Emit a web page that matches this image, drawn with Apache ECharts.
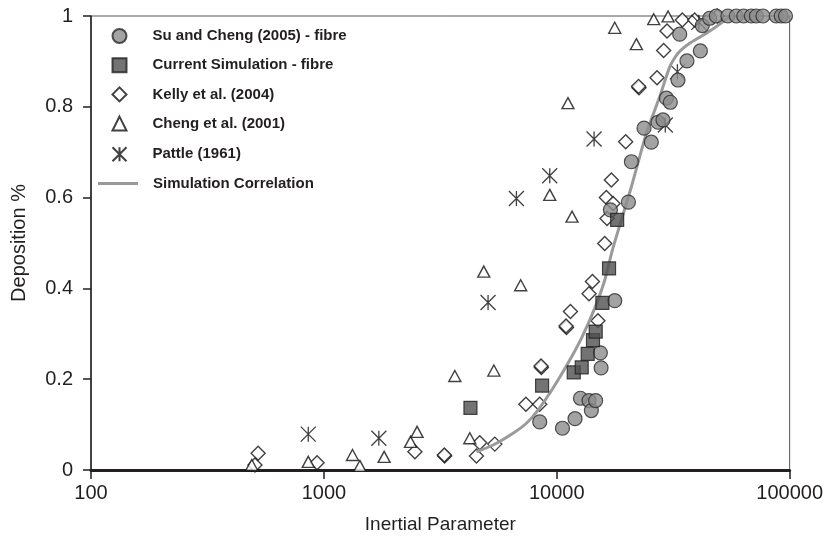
<!DOCTYPE html>
<html>
<head>
<meta charset="UTF-8">
<script src="https://cdn.jsdelivr.net/npm/echarts@6/dist/echarts.min.js"></script>
<style>
  html, body { margin: 0; padding: 0; background: #fff; }
  #chart { width: 826px; height: 540px; }
</style>
</head>
<body>
<div id="chart"></div>
<script type="text/javascript">
// Data: [inertial parameter, deposition fraction]
const suCheng = [
  [8450, 0.106], [10580, 0.092], [11980, 0.113], [12640, 0.158], [13760, 0.153],
  [14080, 0.131], [14690, 0.153], [15390, 0.258], [15500, 0.225], [17740, 0.373],
  [17000, 0.573], [20310, 0.59], [20920, 0.679], [23700, 0.753], [25470, 0.722],
  [27210, 0.766], [28590, 0.771], [29570, 0.819], [30740, 0.81], [33160, 0.859],
  [33730, 0.96], [36230, 0.901], [41370, 0.923], [42170, 0.979], [45370, 0.995],
  [48400, 1.0], [54300, 1.0], [59000, 1.0], [63500, 1.0], [68500, 1.0],
  [72000, 1.0], [76800, 1.0], [87600, 1.0], [92000, 1.0], [96000, 1.0]
];
const currentSim = [
  [4260, 0.137], [8650, 0.186], [11830, 0.215], [12800, 0.226], [13580, 0.256],
  [14310, 0.286], [14700, 0.305], [15700, 0.368], [16770, 0.444], [18170, 0.551]
];
const kelly = [
  [522, 0.037], [506, 0.011], [935, 0.016], [2460, 0.040], [3300, 0.031], [3290, 0.033],
  [4520, 0.031], [4670, 0.060], [5420, 0.057], [7370, 0.145], [8450, 0.145],
  [8590, 0.226], [8560, 0.229], [11010, 0.314], [10960, 0.317], [11450, 0.349],
  [15030, 0.329], [13760, 0.388], [14230, 0.415], [16070, 0.499], [16440, 0.554],
  [16330, 0.6], [17450, 0.587], [17160, 0.639], [19770, 0.723], [22550, 0.842],
  [22450, 0.845], [26950, 0.864], [28770, 0.924], [29750, 0.967], [34600, 0.991],
  [39100, 0.991], [48900, 1.0]
];
const cheng = [
  [490, 0.011], [857, 0.018], [1327, 0.033], [1427, 0.009], [1815, 0.029],
  [2355, 0.062], [2513, 0.084], [4233, 0.070], [3650, 0.207], [5370, 0.219],
  [4860, 0.437], [7000, 0.407], [9330, 0.606], [11630, 0.558], [11170, 0.808],
  [17740, 0.974], [21980, 0.938], [26080, 0.993], [30060, 0.999]
];
const pattle = [
  [857, 0.079], [1722, 0.070], [5070, 0.369], [6710, 0.598], [9330, 0.648],
  [14460, 0.729], [29250, 0.76], [32960, 0.877], [40740, 0.986]
];
const correlation = [
  [4520, 0.040], [5330, 0.055], [6490, 0.081], [7410, 0.103], [8310, 0.132],
  [9630, 0.18], [11170, 0.235], [12760, 0.29], [14550, 0.356], [16070, 0.418],
  [17340, 0.485], [18950, 0.551], [20920, 0.624], [24260, 0.742], [27670, 0.822],
  [30550, 0.888], [33160, 0.918], [37220, 0.94], [43900, 0.962], [51720, 0.987],
  [55260, 1.0]
];

const names = [
  'Su and Cheng (2005) - fibre',
  'Current Simulation - fibre',
  'Kelly et al. (2004)',
  'Cheng et al. (2001)',
  'Pattle (1961)',
  'Simulation Correlation'
];

const ink = '#231f20';
const font = 'Liberation Sans, Arial, sans-serif';
const asterisk = 'path://M0,0 L2,2 M0,2 L2,0 M1,0 L1,2';

const legendText = {
  fontFamily: font, fontSize: 15, fontWeight: 'bold', color: ink
};

const chart = echarts.init(document.getElementById('chart'), null, { renderer: 'canvas' });

const option = {
  backgroundColor: '#fff',
  animation: false,
  grid: {
    left: 91, right: 36, top: 16, bottom: 70,
    show: true, borderColor: '#555', borderWidth: 1
  },
  legend: [
    {
      // marker entries
      orient: 'vertical',
      left: 105,
      top: 23,
      itemWidth: 14,
      itemHeight: 14,
      itemGap: 13.2,
      data: names.slice(0, 5),
      textStyle: Object.assign({ padding: [0, 0, 0, 21] }, legendText)
    },
    {
      // line entry
      orient: 'vertical',
      left: 93,
      top: 171,
      itemWidth: 40,
      itemHeight: 14,
      data: [{ name: names[5], icon: 'path://M0,0 L40,0 L40,3.2 L0,3.2 Z' }],
      textStyle: Object.assign({ padding: [0, 0, 0, 10] }, legendText)
    }
  ],
  xAxis: {
    type: 'log',
    logBase: 10,
    min: 100,
    max: 100000,
    name: 'Inertial Parameter',
    nameLocation: 'middle',
    nameGap: 45,
    nameTextStyle: { fontFamily: font, fontSize: 19, color: ink },
    axisLine: { show: true, lineStyle: { color: ink, width: 3 } },
    axisTick: { show: true, inside: false, length: 9, lineStyle: { color: ink, width: 1.5 } },
    minorTick: { show: false },
    splitLine: { show: false },
    axisLabel: {
      margin: 13,
      fontFamily: font, fontSize: 20, color: ink,
      formatter: v => String(Math.round(v))
    }
  },
  yAxis: {
    type: 'value',
    min: 0,
    max: 1,
    interval: 0.2,
    name: 'Deposition %',
    nameLocation: 'middle',
    nameGap: 62,
    nameTextStyle: { fontFamily: font, fontSize: 20, color: ink },
    axisLine: { show: true, lineStyle: { color: ink, width: 1.5 } },
    axisTick: { show: true, inside: false, length: 8, lineStyle: { color: ink, width: 1.5 } },
    splitLine: { show: false },
    axisLabel: {
      margin: 18,
      fontFamily: font, fontSize: 20, color: ink,
      formatter: v => String(Math.round(v * 10) / 10)
    }
  },
  series: [
    {
      name: names[2], type: 'scatter', data: kelly, symbol: 'diamond', symbolSize: 14,
      itemStyle: { color: '#fff', borderColor: '#111', borderWidth: 1.4 }, z: 2
    },
    {
      name: names[3], type: 'scatter', data: cheng, symbol: 'triangle', symbolSize: [12, 11],
      itemStyle: { color: '#fff', borderColor: '#111', borderWidth: 1.4 }, z: 2
    },
    {
      name: names[4], type: 'scatter', data: pattle, symbol: asterisk, symbolSize: 15,
      itemStyle: { color: 'none', borderColor: '#111', borderWidth: 1.3 }, z: 2
    },
    {
      name: names[5], type: 'line', data: correlation, symbol: 'none', smooth: 0.2,
      lineStyle: { color: '#9a9a9a', width: 3 },
      itemStyle: { color: '#9a9a9a' }, z: 3
    },
    {
      name: names[0], type: 'scatter', data: suCheng, symbol: 'circle', symbolSize: 14,
      itemStyle: { color: '#8c8c8c', borderColor: '#2a2a2a', borderWidth: 1.2 }, z: 4
    },
    {
      name: names[1], type: 'scatter', data: currentSim, symbol: 'rect', symbolSize: 13,
      itemStyle: { color: '#505050', borderColor: '#1e1e1e', borderWidth: 1.2 }, z: 5
    }
  ]
};

chart.setOption(option);
</script>
</body>
</html>
